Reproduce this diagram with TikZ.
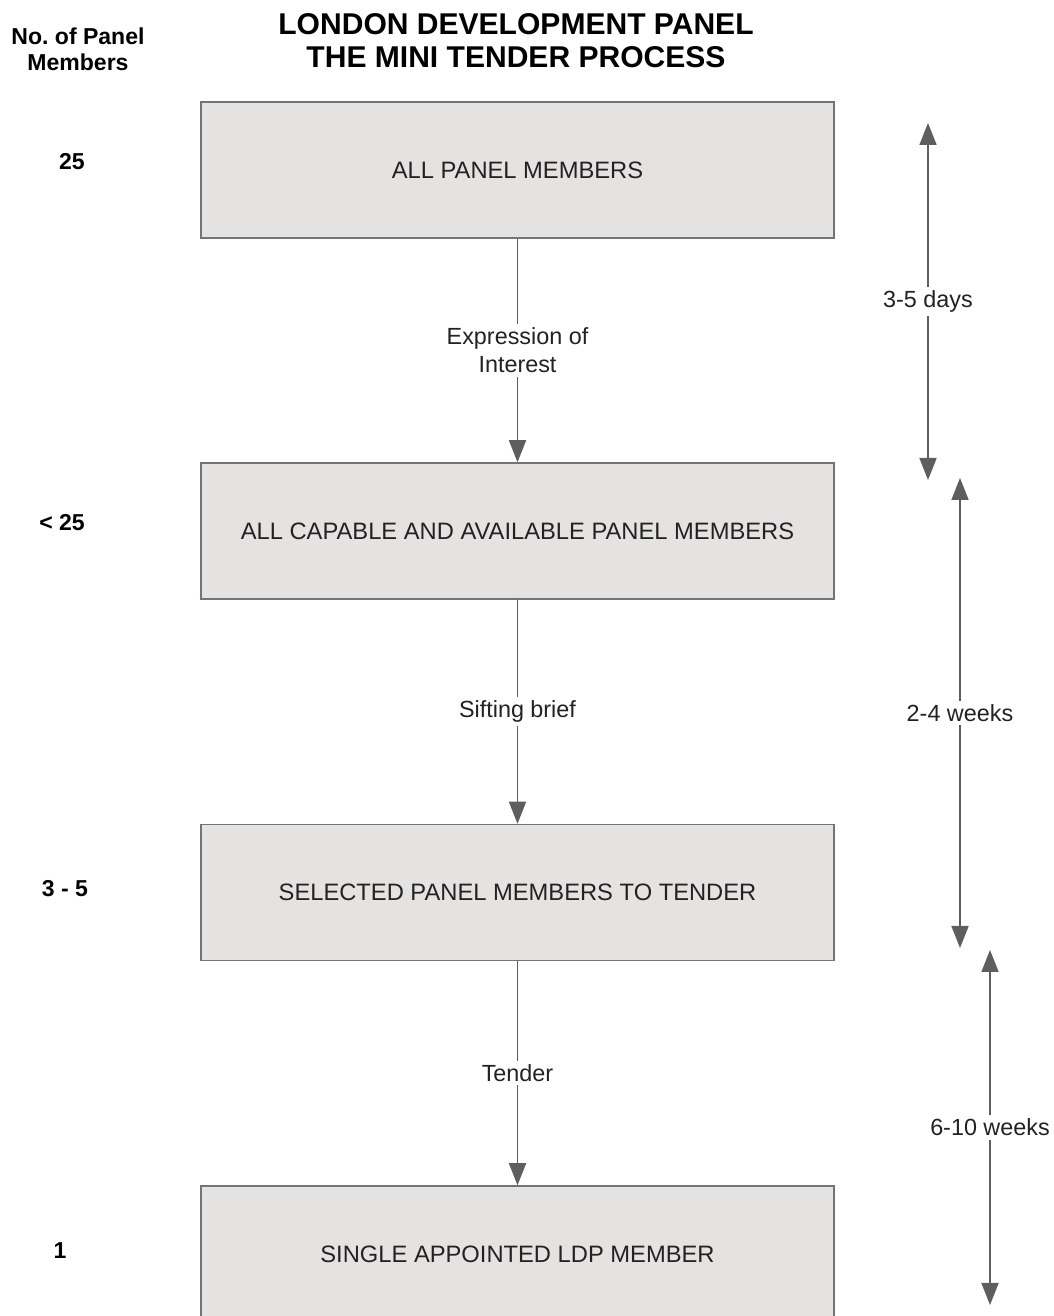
\documentclass[tikz,border=0pt]{standalone}
\usepackage{fontspec}
\setmainfont{Liberation Sans}
\usetikzlibrary{arrows.meta}

\definecolor{boxfill}{HTML}{E4E3E2}
\definecolor{boxline}{HTML}{747474}
\definecolor{arrowgrey}{HTML}{5E5E5E}
\definecolor{textgrey}{HTML}{222222}

\tikzset{
  stagebox/.style={draw=boxline, fill=boxfill, line width=0.03cm, minimum width=12.66cm,
    minimum height=2.72cm, inner sep=0pt, text=textgrey, font=\fontsize{13.5}{15.9}\selectfont},
  flowarrow/.style={draw=arrowgrey, line width=0.035cm,
    -{Triangle[length=0.44cm, width=0.34cm, fill=arrowgrey]}},
  spanarrow/.style={draw=arrowgrey, line width=0.035cm,
    {Triangle[length=0.44cm, width=0.34cm, fill=arrowgrey]}-{Triangle[length=0.44cm, width=0.34cm, fill=arrowgrey]}},
  steplabel/.style={fill=white, inner sep=2pt, align=center, text=textgrey,
    font=\fontsize{13.3}{15.9}\selectfont},
  countlabel/.style={font=\bfseries\fontsize{13.1}{15}\selectfont, inner sep=1pt}
}

\begin{document}
\begin{tikzpicture}
  \useasboundingbox (0.000,0.000) rectangle (21.060,26.320);
  % headings
  \node[align=center, font=\bfseries\fontsize{17.1}{18.8}\selectfont] (title) at (10.320,25.500)
    {LONDON DEVELOPMENT PANEL\\THE MINI TENDER PROCESS};
  \node[align=center, font=\bfseries\fontsize{13.1}{14.8}\selectfont] (count) at (1.560,25.340)
    {No.\ of Panel\\Members};
  % stages
  \node[stagebox] (b1) at (10.350,22.920) {ALL PANEL MEMBERS};
  \node[stagebox] (b2) at (10.350,15.700) {ALL CAPABLE AND AVAILABLE PANEL MEMBERS};
  \node[stagebox] (b3) at (10.350,8.470) {SELECTED PANEL MEMBERS TO TENDER};
  \node[stagebox] (b4) at (10.350,1.240) {SINGLE APPOINTED LDP MEMBER};
  \draw[flowarrow] (b1) -- node[steplabel] {Expression of\\Interest} (b2);
  \draw[flowarrow] (b2) -- node[steplabel] {Sifting brief} (b3);
  \draw[flowarrow] (b3) -- node[steplabel] {Tender} (b4);
  % member counts
  \node[countlabel] (n1) at (1.440,23.080) {25};
  \node[countlabel] (n2) at (1.240,15.860) {< 25};
  \node[countlabel] (n3) at (1.300,8.540) {3 - 5};
  \node[countlabel] (n4) at (1.200,1.300) {1};
  % durations
  \coordinate (d1a) at (18.560,23.860);
  \coordinate (d1b) at (18.560,16.720);
  \coordinate (d2a) at (19.200,16.760);
  \coordinate (d2b) at (19.200,7.360);
  \coordinate (d3a) at (19.800,7.320);
  \coordinate (d3b) at (19.800,0.220);
  \draw[spanarrow] (d1a) -- node[steplabel] {3-5 days} (d1b);
  \draw[spanarrow] (d2a) -- node[steplabel] {2-4 weeks} (d2b);
  \draw[spanarrow] (d3a) -- node[steplabel] {6-10 weeks} (d3b);
\end{tikzpicture}
\end{document}
